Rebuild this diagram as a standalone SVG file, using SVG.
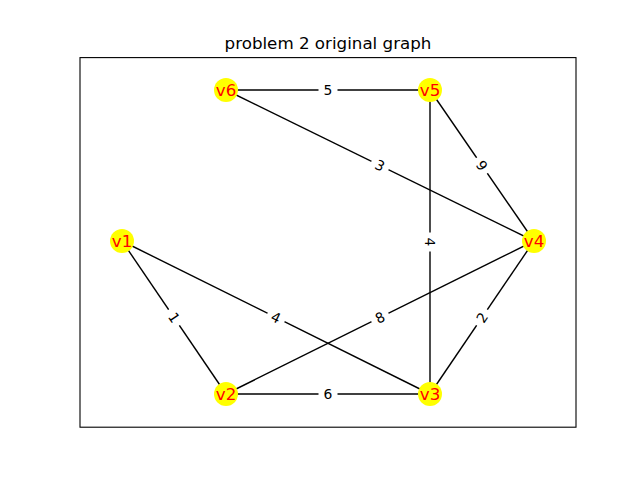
<svg xmlns="http://www.w3.org/2000/svg" width="640" height="480" viewBox="0 0 640 480">
<style>
.edge{stroke:#000;stroke-width:1.4;fill:none}
.node circle{fill:#ffff00;stroke:none}
.node text{fill:#ff0000;font-family:"DejaVu Sans",sans-serif;font-size:16.7px;text-anchor:middle}
.el rect{fill:#fff;stroke:none}
.el text{fill:#000;font-family:"DejaVu Sans",sans-serif;font-size:13.9px;text-anchor:middle}
.title{fill:#000;font-family:"DejaVu Sans",sans-serif;font-size:16.7px;text-anchor:middle}
</style>
<rect width="640" height="480" fill="#fff"/>
<rect x="80" y="57.6" width="496" height="369.6" fill="none" stroke="#000" stroke-width="1.1"/>
<text class="title" x="328" y="49">problem 2 original graph</text>
<g id="connectors">
<line class="edge" x1="226" y1="90" x2="430" y2="90"/>
<line class="edge" x1="226" y1="90" x2="534" y2="241"/>
<line class="edge" x1="430" y1="90" x2="534" y2="241"/>
<line class="edge" x1="430" y1="90" x2="430" y2="394"/>
<line class="edge" x1="122" y1="241" x2="226" y2="394"/>
<line class="edge" x1="122" y1="241" x2="430" y2="394"/>
<line class="edge" x1="226" y1="394" x2="534" y2="241"/>
<line class="edge" x1="534" y1="241" x2="430" y2="394"/>
<line class="edge" x1="226" y1="394" x2="430" y2="394"/>
</g>
<g id="edge-labels">
<g class="el" transform="translate(328,90)"><rect x="-9.5" y="-10" width="19" height="20" rx="3"/><text y="5">5</text></g>
<g class="el" transform="translate(380,165.5) rotate(26.1)"><rect x="-9.5" y="-10" width="19" height="20" rx="3"/><text y="5">3</text></g>
<g class="el" transform="translate(482,165.5) rotate(55.4)"><rect x="-9.5" y="-10" width="19" height="20" rx="3"/><text y="5">9</text></g>
<g class="el" transform="translate(430,242) rotate(90)"><rect x="-9.5" y="-10" width="19" height="20" rx="3"/><text y="5">4</text></g>
<g class="el" transform="translate(174,317.5) rotate(55.6)"><rect x="-9.5" y="-10" width="19" height="20" rx="3"/><text y="5">1</text></g>
<g class="el" transform="translate(276,317.5) rotate(26.4)"><rect x="-9.5" y="-10" width="19" height="20" rx="3"/><text y="5">4</text></g>
<g class="el" transform="translate(380,317.5) rotate(-26.4)"><rect x="-9.5" y="-10" width="19" height="20" rx="3"/><text y="5">8</text></g>
<g class="el" transform="translate(482,317.5) rotate(-55.8)"><rect x="-9.5" y="-10" width="19" height="20" rx="3"/><text y="5">2</text></g>
<g class="el" transform="translate(328,394)"><rect x="-9.5" y="-10" width="19" height="20" rx="3"/><text y="5">6</text></g>
</g>
<g id="v6" class="node"><circle cx="226" cy="90" r="12"/><text x="226" y="96">v6</text></g>
<g id="v5" class="node"><circle cx="430" cy="90" r="12"/><text x="430" y="96">v5</text></g>
<g id="v1" class="node"><circle cx="122" cy="241" r="12"/><text x="122" y="247">v1</text></g>
<g id="v4" class="node"><circle cx="534" cy="241" r="12"/><text x="534" y="247">v4</text></g>
<g id="v2" class="node"><circle cx="226" cy="394" r="12"/><text x="226" y="400">v2</text></g>
<g id="v3" class="node"><circle cx="430" cy="394" r="12"/><text x="430" y="400">v3</text></g>
</svg>
